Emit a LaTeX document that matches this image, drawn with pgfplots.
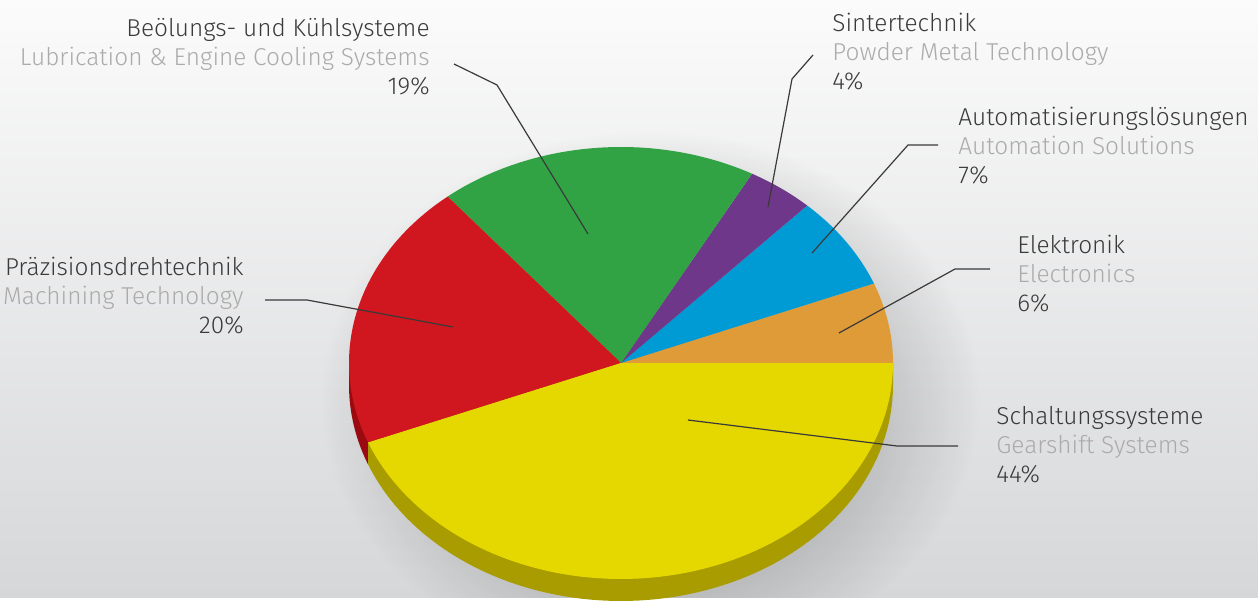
\documentclass[border=0pt]{standalone}
\usepackage{fontspec}
\setmainfont{Fira Sans}[UprightFont=* Light]
\usepackage{pgfplots}
\pgfplotsset{compat=1.18}
\usetikzlibrary{fadings}
\definecolor{bgtop}{HTML}{FBFBFB}
\definecolor{bgbot}{HTML}{D6D7D9}
\definecolor{cYellow}{HTML}{E5D800}
\definecolor{cYellowSide}{HTML}{A99C00}
\definecolor{cRed}{HTML}{D0171F}
\definecolor{cRedSide}{HTML}{9A0A10}
\definecolor{cGreen}{HTML}{31A345}
\definecolor{cPurple}{HTML}{6E3789}
\definecolor{cBlue}{HTML}{009BD4}
\definecolor{cOrange}{HTML}{DF9B37}
\definecolor{tDark}{HTML}{3A3A3A}
\definecolor{tLight}{HTML}{ABABAB}
\definecolor{leader}{HTML}{3A3A3A}
\tikzfading[name=softfade, inner color=transparent!0, outer color=transparent!100]

% pie: centre (621,363) px, radii 272 x 216 px, depth 22 px
\newcommand{\slice}[3]{%
  \addplot[fill=#3, draw=none, domain=#1:#2, samples=80, variable=\t]
    ({621+272*cos(\t)},{363-216*sin(\t)}) -- (axis cs:621,363) -- cycle;}
\newcommand{\side}[3]{%
  \addplot[fill=#3, draw=none, domain=#1:#2, samples=80, variable=\t]
    ({621+272*cos(\t)},{385-216*sin(\t)})
    -- (axis cs:{621+272*cos(#2)},{363-216*sin(#2)})
    -- (axis cs:621,363)
    -- (axis cs:{621+272*cos(#1)},{363-216*sin(#1)}) -- cycle;}
\newcommand{\lab}[6]{%
  \node[anchor=base #1, inner sep=0pt, text=tDark] at (axis cs:#2,#3) {#4};
  \node[anchor=base #1, inner sep=0pt, text=tLight] at (axis cs:#2,#3+29) {#5};
  \node[anchor=base #1, inner sep=0pt, text=tDark] at (axis cs:#2,#3+58) {#6};}

\begin{document}
\begin{tikzpicture}
\begin{axis}[
  width=629pt, height=298.5pt, scale only axis,
  xmin=0, xmax=1258, ymin=0, ymax=597, y dir=reverse,
  hide axis, clip=false,
  font=\fontsize{12.2}{14}\selectfont,
]
% background
\shade[top color=bgtop, bottom color=bgbot] (axis cs:0,0) rectangle (axis cs:1258,597);
% soft shadow (clipped to the picture)
\begin{scope}
\clip (axis cs:0,0) rectangle (axis cs:1258,597);
\fill[black, opacity=0.45, path fading=softfade] (axis cs:650,400) ellipse [x radius=165pt, y radius=135pt];
\end{scope}

% sides (front)
\side{180}{201.6}{cRedSide}
\side{201.6}{360}{cYellowSide}

% top surface: shares 6, 7, 4, 19, 20, 44 percent (x 3.6 deg)
\slice{0}{21.6}{cOrange}
\slice{21.6}{46.8}{cBlue}
\slice{46.8}{61.2}{cPurple}
\slice{61.2}{129.6}{cGreen}
\slice{129.6}{201.6}{cRed}
\slice{201.6}{360}{cYellow}

% leader lines
\addplot[leader, line width=0.6pt] coordinates {(454,64) (497,85) (588,234)};
\addplot[leader, line width=0.6pt] coordinates {(265,300) (307,300) (453,327)};
\addplot[leader, line width=0.6pt] coordinates {(813,55) (792,79) (768,207)};
\addplot[leader, line width=0.6pt] coordinates {(938,145) (908,145) (812,253)};
\addplot[leader, line width=0.6pt] coordinates {(990,269) (955,269) (839,333)};
\addplot[leader, line width=0.6pt] coordinates {(958,446) (897,446) (688,420)};

% labels
\lab{east}{430}{37}{Beölungs- und Kühlsysteme}{Lubrication \& Engine Cooling Systems}{19\%}
\lab{east}{244}{276}{Präzisionsdrehtechnik}{Machining Technology}{20\%}
\lab{west}{832}{32}{Sintertechnik}{Powder Metal Technology}{4\%}
\lab{west}{958}{126}{Automatisierungslösungen}{Automation Solutions}{7\%}
\lab{west}{1017}{254}{Elektronik}{Electronics}{6\%}
\lab{west}{996}{424}{Schaltungssysteme}{Gearshift Systems}{44\%}
\end{axis}
\end{tikzpicture}
\end{document}
